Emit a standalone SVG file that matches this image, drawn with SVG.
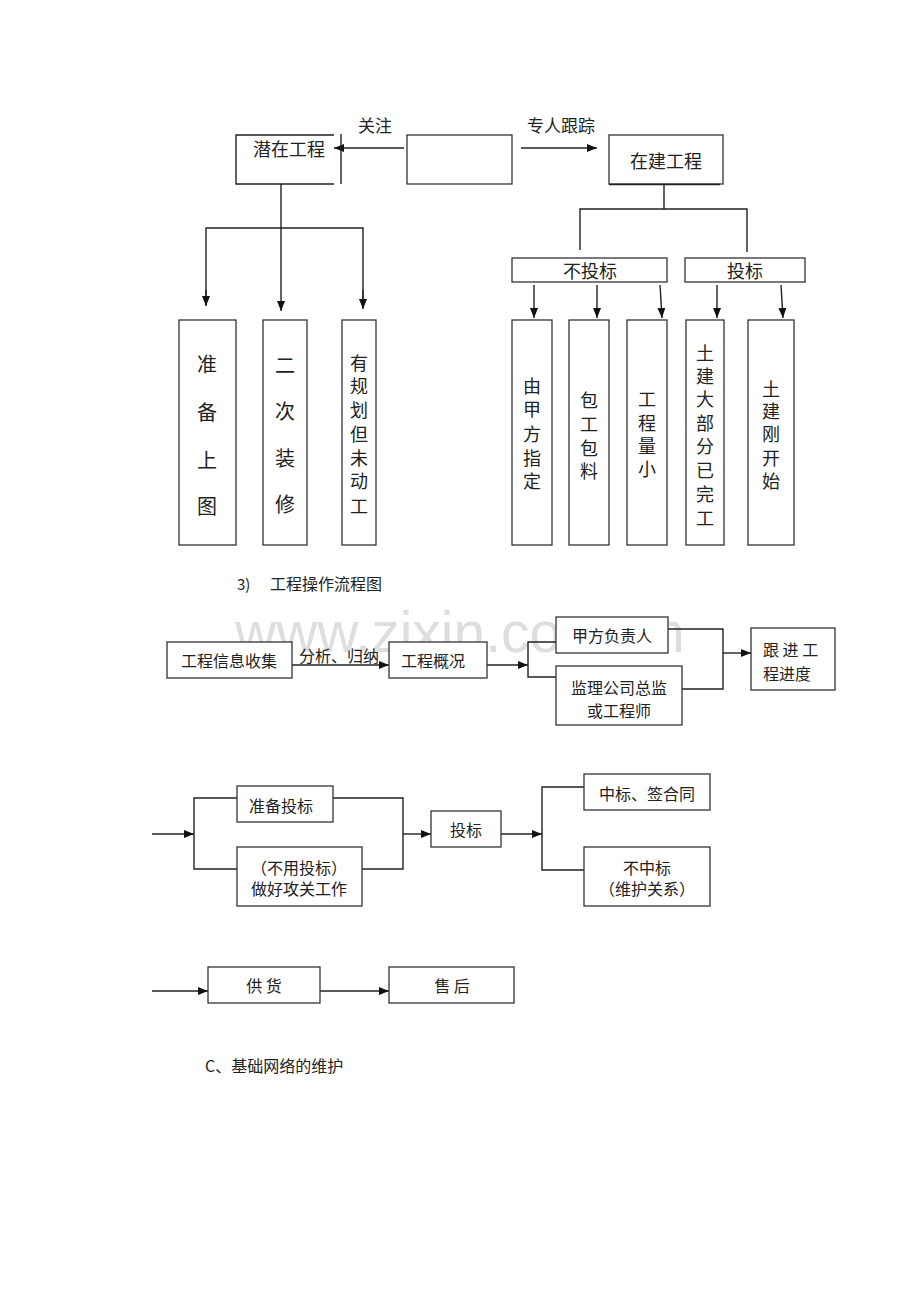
<svg xmlns="http://www.w3.org/2000/svg" width="920" height="1302" viewBox="0 0 920 1302">
<style>
.b{fill:#fff;stroke:#333;stroke-width:1.3}
.t{font-family:"Noto Sans CJK SC","Liberation Serif",serif;fill:#222;dominant-baseline:central}
.m{text-anchor:middle}
.l{fill:none;stroke:#222;stroke-width:1.4}
.a{fill:none;stroke:#222;stroke-width:1.4;marker-end:url(#ah)}
.wm{font-family:"Liberation Sans",Arial,sans-serif;fill:#dedede;font-size:57px}
</style>
<defs>
<marker id="ah" markerWidth="10" markerHeight="8" refX="10" refY="4" orient="auto" markerUnits="userSpaceOnUse">
<path d="M0,0 L10,4 L0,8 Z" fill="#111"/>
</marker>
</defs>
<rect width="920" height="1302" fill="#fff"/>
<text class="wm" x="235" y="652">www.zixin.com.cn</text>

<g id="connectors">
<!-- top -->
<line class="a" x1="404" y1="148" x2="334" y2="148"/>
<line class="a" x1="521" y1="148" x2="597" y2="148"/>
<text class="t m" x="375" y="124" font-size="17">关注</text>
<text class="t m" x="561" y="124" font-size="17">专人跟踪</text>
<!-- left tree -->
<line class="a" x1="281" y1="184" x2="281" y2="311"/>
<polyline class="l" points="206,305 206,228 363,228 363,308"/>
<line class="a" x1="206" y1="290" x2="206" y2="306"/>
<line class="a" x1="363" y1="290" x2="363" y2="309"/>
<!-- right tree -->
<line class="l" x1="664" y1="184" x2="664" y2="209"/>
<polyline class="l" points="580,250 580,209 747,209 747,252"/>
<line class="a" x1="534" y1="285" x2="534" y2="318"/>
<line class="a" x1="597" y1="285" x2="597" y2="318"/>
<line class="a" x1="660" y1="285" x2="662" y2="318"/>
<line class="a" x1="717" y1="285" x2="717" y2="318"/>
<line class="a" x1="781" y1="285" x2="783" y2="318"/>
<!-- flow 1 -->
<line class="a" x1="292" y1="665" x2="389" y2="665"/>
<text class="t m" x="339" y="655" font-size="16">分析、归纳</text>
<line class="a" x1="487" y1="665" x2="528" y2="665"/>
<polyline class="l" points="556,642 528,642 528,677 556,677"/>
<polyline class="l" points="668,629 723,629 723,689 682,689"/>
<line class="a" x1="723" y1="653" x2="751" y2="653"/>
<!-- flow 2 -->
<line class="a" x1="152" y1="834" x2="194" y2="834"/>
<polyline class="l" points="237,798 194,798 194,869 237,869"/>
<polyline class="l" points="333,798 403,798 403,869 362,869"/>
<line class="a" x1="403" y1="834" x2="431" y2="834"/>
<line class="a" x1="501" y1="834" x2="542" y2="834"/>
<polyline class="l" points="584,787 542,787 542,870 584,870"/>
<!-- flow 3 -->
<line class="a" x1="152" y1="991" x2="208" y2="991"/>
<line class="a" x1="320" y1="991" x2="389" y2="991"/>
</g>

<g id="n-qianzai">
<polyline class="l" points="334,135 236,135 236,184 334,184" stroke="#111"/>
<line class="l" x1="341" y1="134" x2="341" y2="184"/>
<text class="t m" x="289" y="148" font-size="18">潜在工程</text>
</g>
<g id="n-blank"><rect class="b" x="407" y="135" width="105" height="49"/></g>
<g id="n-zaijian">
<rect class="b" x="609" y="135" width="114" height="49"/>
<line class="l" x1="609" y1="184.5" x2="720" y2="184.5" stroke-width="2"/>
<text class="t m" x="666" y="160" font-size="18">在建工程</text>
</g>
<g id="n-butoubiao"><rect class="b" x="512" y="258" width="155" height="24"/><text class="t m" x="590" y="270" font-size="18">不投标</text></g>
<g id="n-toubiao"><rect class="b" x="685" y="258" width="120" height="24"/><text class="t m" x="745" y="270" font-size="18">投标</text></g>

<g id="n-zhunbei"><rect class="b" x="179" y="320" width="57" height="225"/>
<text class="t m" font-size="20"><tspan x="207" y="363">准</tspan><tspan x="207" y="411">备</tspan><tspan x="207" y="459">上</tspan><tspan x="207" y="505">图</tspan></text></g>
<g id="n-erci"><rect class="b" x="263" y="320" width="44" height="225"/>
<text class="t m" font-size="20"><tspan x="285" y="364">二</tspan><tspan x="285" y="410">次</tspan><tspan x="285" y="457">装</tspan><tspan x="285" y="503">修</tspan></text></g>
<g id="n-youguihua"><rect class="b" x="342" y="320" width="34" height="225"/>
<text class="t m" font-size="18"><tspan x="359" y="362">有</tspan><tspan x="359" y="385">规</tspan><tspan x="359" y="409">划</tspan><tspan x="359" y="433">但</tspan><tspan x="359" y="457">未</tspan><tspan x="359" y="480">动</tspan><tspan x="359" y="505">工</tspan></text></g>

<g id="n-jiafang"><rect class="b" x="512" y="320" width="40" height="225"/>
<text class="t m" font-size="18"><tspan x="532" y="385">由</tspan><tspan x="532" y="408">甲</tspan><tspan x="532" y="433">方</tspan><tspan x="532" y="457">指</tspan><tspan x="532" y="480">定</tspan></text></g>
<g id="n-baogong"><rect class="b" x="569" y="320" width="40" height="225"/>
<text class="t m" font-size="18"><tspan x="589" y="399">包</tspan><tspan x="589" y="423">工</tspan><tspan x="589" y="447">包</tspan><tspan x="589" y="470">料</tspan></text></g>
<g id="n-gongcheng"><rect class="b" x="627" y="320" width="40" height="225"/>
<text class="t m" font-size="18"><tspan x="647" y="398">工</tspan><tspan x="647" y="422">程</tspan><tspan x="647" y="445">量</tspan><tspan x="647" y="468">小</tspan></text></g>
<g id="n-tujianda"><rect class="b" x="686" y="320" width="38" height="225"/>
<text class="t m" font-size="18"><tspan x="705" y="352">土</tspan><tspan x="705" y="375">建</tspan><tspan x="705" y="398">大</tspan><tspan x="705" y="422">部</tspan><tspan x="705" y="445">分</tspan><tspan x="705" y="469">已</tspan><tspan x="705" y="493">完</tspan><tspan x="705" y="517">工</tspan></text></g>
<g id="n-tujiangang"><rect class="b" x="748" y="320" width="46" height="225"/>
<text class="t m" font-size="18"><tspan x="771" y="388">土</tspan><tspan x="771" y="410">建</tspan><tspan x="771" y="433">刚</tspan><tspan x="771" y="457">开</tspan><tspan x="771" y="480">始</tspan></text></g>

<g id="heading3"><text class="t" x="237" y="583" font-size="15" font-family="Liberation Serif">3)</text><text class="t" x="270" y="583" font-size="16">工程操作流程图</text></g>

<g id="n-xinxi"><rect class="b" x="167" y="642" width="125" height="36"/><text class="t m" x="229" y="660" font-size="16">工程信息收集</text></g>
<g id="n-gaikuang"><rect class="b" x="389" y="642" width="98" height="36"/><text class="t m" x="433" y="660" font-size="16">工程概况</text></g>
<g id="n-fuzeren"><rect class="b" x="556" y="617" width="112" height="36"/><text class="t m" x="612" y="635" font-size="16">甲方负责人</text></g>
<g id="n-jianli"><rect class="b" x="556" y="666" width="126" height="59"/><text class="t m" font-size="16"><tspan x="619" y="687">监理公司总监</tspan><tspan x="619" y="710">或工程师</tspan></text></g>
<g id="n-genjin"><rect class="b" x="751" y="628" width="84" height="62"/><text class="t" font-size="16"><tspan x="763" y="649">跟 进 工</tspan><tspan x="763" y="673">程进度</tspan></text></g>

<g id="n-zhunbeitoubiao"><rect class="b" x="237" y="786" width="96" height="36"/><text class="t" x="249" y="805" font-size="16">准备投标</text></g>
<g id="n-gonguan"><rect class="b" x="237" y="847" width="125" height="59"/><text class="t m" font-size="16"><tspan x="299" y="867">（不用投标）</tspan><tspan x="299" y="888">做好攻关工作</tspan></text></g>
<g id="n-toubiao2"><rect class="b" x="431" y="811" width="70" height="36"/><text class="t m" x="466" y="829" font-size="16">投标</text></g>
<g id="n-zhongbiao"><rect class="b" x="584" y="774" width="126" height="36"/><text class="t m" x="647" y="793" font-size="16">中标、签合同</text></g>
<g id="n-buzhongbiao"><rect class="b" x="584" y="847" width="126" height="59"/><text class="t m" font-size="16"><tspan x="647" y="867">不中标</tspan><tspan x="647" y="888">（维护关系）</tspan></text></g>

<g id="n-gonghuo"><rect class="b" x="208" y="967" width="112" height="36"/><text class="t m" x="264" y="985" font-size="16">供 货</text></g>
<g id="n-shouhou"><rect class="b" x="389" y="967" width="125" height="36"/><text class="t m" x="452" y="985" font-size="16">售 后</text></g>

<g id="headingC"><text class="t" x="205" y="1065" font-size="16">C、基础网络的维护</text></g>
</svg>
